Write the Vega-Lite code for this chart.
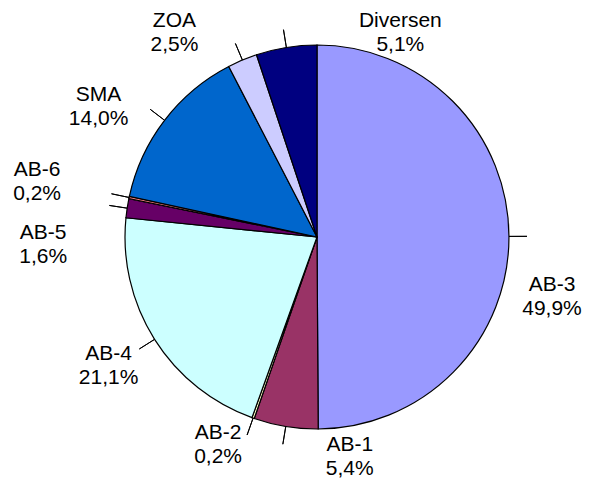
{
  "$schema": "https://vega.github.io/schema/vega-lite/v6.json",
  "width": 550,
  "height": 474,
  "autosize": "none",
  "padding": {"left": 42, "right": 0, "top": 0, "bottom": 12},
  "background": "white",
  "config": {"view": {"stroke": null}, "text": {"font": "Liberation Sans"}},
  "data": {
    "values": [
      {"i": 1, "label": "AB-3", "pct": 49.9, "txt": "AB-3\n49,9%"},
      {"i": 2, "label": "AB-1", "pct": 5.4, "txt": "AB-1\n5,4%"},
      {"i": 3, "label": "AB-2", "pct": 0.2, "txt": "AB-2\n0,2%"},
      {"i": 4, "label": "AB-4", "pct": 21.1, "txt": "AB-4\n21,1%"},
      {"i": 5, "label": "AB-5", "pct": 1.6, "txt": "AB-5\n1,6%"},
      {"i": 6, "label": "AB-6", "pct": 0.2, "txt": "AB-6\n0,2%"},
      {"i": 7, "label": "SMA", "pct": 14.0, "txt": "SMA\n14,0%"},
      {"i": 8, "label": "ZOA", "pct": 2.5, "txt": "ZOA\n2,5%"},
      {"i": 9, "label": "Diversen", "pct": 5.1, "txt": "Diversen\n5,1%"}
    ]
  },
  "transform": [
    {"stack": "pct", "groupby": [], "sort": [{"field": "i", "order": "ascending"}], "as": ["s0", "s1"]}
  ],
  "layer": [
    {
      "mark": {"type": "arc", "outerRadius": 192, "stroke": "black", "strokeWidth": 1.2},
      "encoding": {
        "theta": {"field": "s0", "type": "quantitative", "scale": {"domain": [0, 100]}},
        "theta2": {"field": "s1"},
        "color": {
          "field": "label", "type": "nominal", "legend": null,
          "scale": {
            "domain": ["AB-3", "AB-1", "AB-2", "AB-4", "AB-5", "AB-6", "SMA", "ZOA", "Diversen"],
            "range": ["#9999FF", "#993366", "#FFFFCC", "#CCFFFF", "#660066", "#FF8080", "#0066CC", "#CCCCFF", "#000080"]
          }
        }
      }
    },
    {
      "transform": [
        {"fold": ["s0", "s1"], "as": ["k", "v"]},
        {"aggregate": [{"op": "mean", "field": "v", "as": "mid"}], "groupby": ["label", "txt", "i"]}
      ],
      "encoding": {
        "theta": {"field": "mid", "type": "quantitative", "scale": {"domain": [0, 100]}}
      },
      "layer": [
        {
          "mark": {"type": "arc", "innerRadius": 192, "outerRadius": 210, "stroke": "black", "strokeWidth": 1, "fill": null},
          "encoding": {"theta2": {"field": "mid"}}
        },
        {"transform": [{"filter": "datum.label === 'AB-3'"}], "mark": {"type": "text", "radius": 192, "fontSize": 21, "lineHeight": 24, "lineBreak": "\n", "dx": 43, "dy": 49, "align": "center", "baseline": "middle"}, "encoding": {"text": {"field": "txt"}}},
        {"transform": [{"filter": "datum.label === 'AB-1'"}], "mark": {"type": "text", "radius": 192, "fontSize": 21, "lineHeight": 24, "lineBreak": "\n", "dx": 64, "dy": 19, "align": "center", "baseline": "middle"}, "encoding": {"text": {"field": "txt"}}},
        {"transform": [{"filter": "datum.label === 'AB-2'"}], "mark": {"type": "text", "radius": 192, "fontSize": 21, "lineHeight": 24, "lineBreak": "\n", "dx": -35, "dy": 15, "align": "center", "baseline": "middle"}, "encoding": {"text": {"field": "txt"}}},
        {"transform": [{"filter": "datum.label === 'AB-4'"}], "mark": {"type": "text", "radius": 192, "fontSize": 21, "lineHeight": 24, "lineBreak": "\n", "dx": -46, "dy": 15, "align": "center", "baseline": "middle"}, "encoding": {"text": {"field": "txt"}}},
        {"transform": [{"filter": "datum.label === 'AB-5'"}], "mark": {"type": "text", "radius": 192, "fontSize": 21, "lineHeight": 24, "lineBreak": "\n", "dx": -84, "dy": 25, "align": "center", "baseline": "middle"}, "encoding": {"text": {"field": "txt"}}},
        {"transform": [{"filter": "datum.label === 'AB-6'"}], "mark": {"type": "text", "radius": 192, "fontSize": 21, "lineHeight": 24, "lineBreak": "\n", "dx": -92, "dy": -27, "align": "center", "baseline": "middle"}, "encoding": {"text": {"field": "txt"}}},
        {"transform": [{"filter": "datum.label === 'SMA'"}], "mark": {"type": "text", "radius": 192, "fontSize": 21, "lineHeight": 24, "lineBreak": "\n", "dx": -66, "dy": -25, "align": "center", "baseline": "middle"}, "encoding": {"text": {"field": "txt"}}},
        {"transform": [{"filter": "datum.label === 'ZOA'"}], "mark": {"type": "text", "radius": 192, "fontSize": 21, "lineHeight": 24, "lineBreak": "\n", "dx": -68, "dy": -39, "align": "center", "baseline": "middle"}, "encoding": {"text": {"field": "txt"}}},
        {"transform": [{"filter": "datum.label === 'Diversen'"}], "mark": {"type": "text", "radius": 192, "fontSize": 21, "lineHeight": 24, "lineBreak": "\n", "dx": 114, "dy": -26, "align": "center", "baseline": "middle"}, "encoding": {"text": {"field": "txt"}}}
      ]
    }
  ]
}
